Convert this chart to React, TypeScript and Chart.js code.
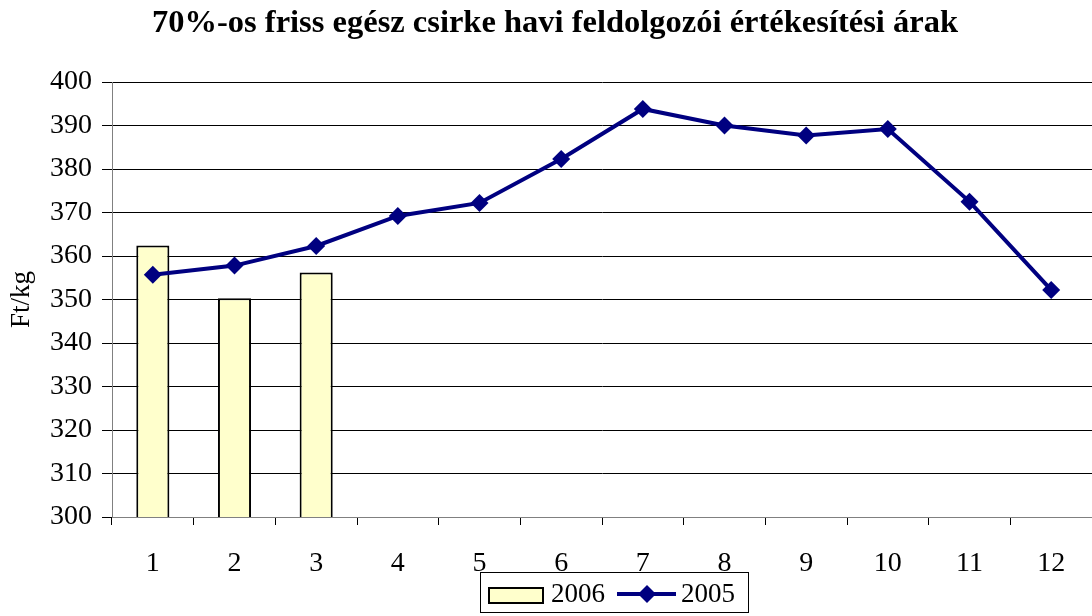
import React, { useEffect, useRef } from "react";
import { Chart, registerables } from "chart.js";

Chart.register(...registerables);

const TITLE = "70%-os friss egész csirke havi feldolgozói értékesítési árak";
const Y_TITLE = "Ft/kg";
const MONTHS = ["1", "2", "3", "4", "5", "6", "7", "8", "9", "10", "11", "12"];
const SERIES_2006 = [362.4, 350.3, 356.2, null, null, null, null, null, null, null, null, null];
const SERIES_2005 = [355.7, 357.8, 362.3, 369.2, 372.2, 382.3, 393.8, 390.0, 387.7, 389.2, 372.5, 352.2];
const LABEL_2006 = "2006";
const LABEL_2005 = "2005";

const FONT = "'Liberation Serif', 'Times New Roman', serif";

const overlayPlugin = {
  id: "overlay",
  afterDraw(chart: any) {
    const ctx = chart.ctx;
    ctx.save();
    // Title
    ctx.fillStyle = "#000";
    ctx.font = `bold 32.5px ${FONT}`;
    ctx.textAlign = "center";
    ctx.textBaseline = "middle";
    ctx.fillText(TITLE, 555, 24);

    // Legend box
    ctx.strokeStyle = "#000";
    ctx.lineWidth = 1;
    ctx.fillStyle = "#fff";
    ctx.fillRect(480.5, 572.5, 268, 40);
    ctx.strokeRect(480.5, 572.5, 268, 40);

    // 2006 swatch
    ctx.fillStyle = "#FFFFCC";
    ctx.fillRect(489, 588, 54, 15);
    ctx.lineWidth = 2;
    ctx.strokeRect(489, 588, 54, 15);

    ctx.fillStyle = "#000";
    ctx.font = `27px ${FONT}`;
    ctx.textAlign = "left";
    ctx.textBaseline = "middle";
    ctx.fillText(LABEL_2006, 551, 595);

    // 2005 line + diamond
    ctx.strokeStyle = "#000080";
    ctx.lineWidth = 4;
    ctx.beginPath();
    ctx.moveTo(617, 594);
    ctx.lineTo(676, 594);
    ctx.stroke();
    ctx.fillStyle = "#000080";
    ctx.beginPath();
    ctx.moveTo(647, 585);
    ctx.lineTo(656, 594);
    ctx.lineTo(647, 603);
    ctx.lineTo(638, 594);
    ctx.closePath();
    ctx.fill();

    ctx.fillStyle = "#000";
    ctx.fillText(LABEL_2005, 681, 595);
    ctx.restore();
  },
};

export default function App() {
  const ref = useRef<HTMLCanvasElement | null>(null);

  useEffect(() => {
    if (!ref.current) return;
    const chart = new Chart(ref.current, {
      type: "bar",
      data: {
        labels: MONTHS,
        datasets: [
          {
            type: "line",
            label: LABEL_2005,
            data: SERIES_2005,
            borderColor: "#000080",
            backgroundColor: "#000080",
            borderWidth: 4,
            pointStyle: "rectRot",
            pointRadius: 9,
            pointBorderWidth: 0,
            pointBackgroundColor: "#000080",
            tension: 0,
            clip: false,
            order: 0,
          } as any,
          {
            type: "bar",
            label: LABEL_2006,
            data: SERIES_2006,
            backgroundColor: "#FFFFCC",
            borderColor: "#000",
            borderWidth: 2,
            barPercentage: 0.405,
            categoryPercentage: 1,
            order: 1,
          } as any,
        ],
      },
      options: {
        responsive: false,
        animation: false,
        layout: { autoPadding: false, padding: { left: 0, right: 0, top: 82, bottom: 0 } },
        plugins: {
          legend: { display: false },
          title: { display: false },
          tooltip: { enabled: false },
        },
        scales: {
          x: {
            offset: true,
            grid: {
              offset: true,
              drawOnChartArea: false,
              drawTicks: true,
              tickLength: 8,
              tickColor: "#000",
            },
            border: { color: "#808080", width: 1 },
            ticks: {
              color: "#000",
              font: { family: FONT, size: 28 },
              padding: 22,
              maxRotation: 0,
            },
            afterFit(scale: any) {
              scale.height = 99;
              scale.paddingLeft = 0;
              scale.paddingRight = 0;
            },
          },
          y: {
            min: 300,
            max: 400,
            ticks: {
              stepSize: 10,
              color: "#000",
              font: { family: FONT, size: 28 },
              padding: 10,
            },
            grid: {
              color: "#000",
              lineWidth: 1,
              tickLength: 10,
              tickColor: "#000",
            },
            border: { color: "#808080", width: 1 },
            title: {
              display: true,
              text: Y_TITLE,
              color: "#000",
              font: { family: FONT, size: 27 },
              padding: { top: 6, bottom: 0 },
            },
            afterFit(scale: any) {
              scale.width = 112;
            },
          },
        },
      },
      plugins: [overlayPlugin],
    });
    return () => chart.destroy();
  }, []);

  return (
    <div style={{ position: "fixed", left: 0, top: 0, width: 1092, height: 616, background: "#fff" }}>
      <canvas ref={ref} width={1092} height={616} style={{ display: "block" }} />
    </div>
  );
}
